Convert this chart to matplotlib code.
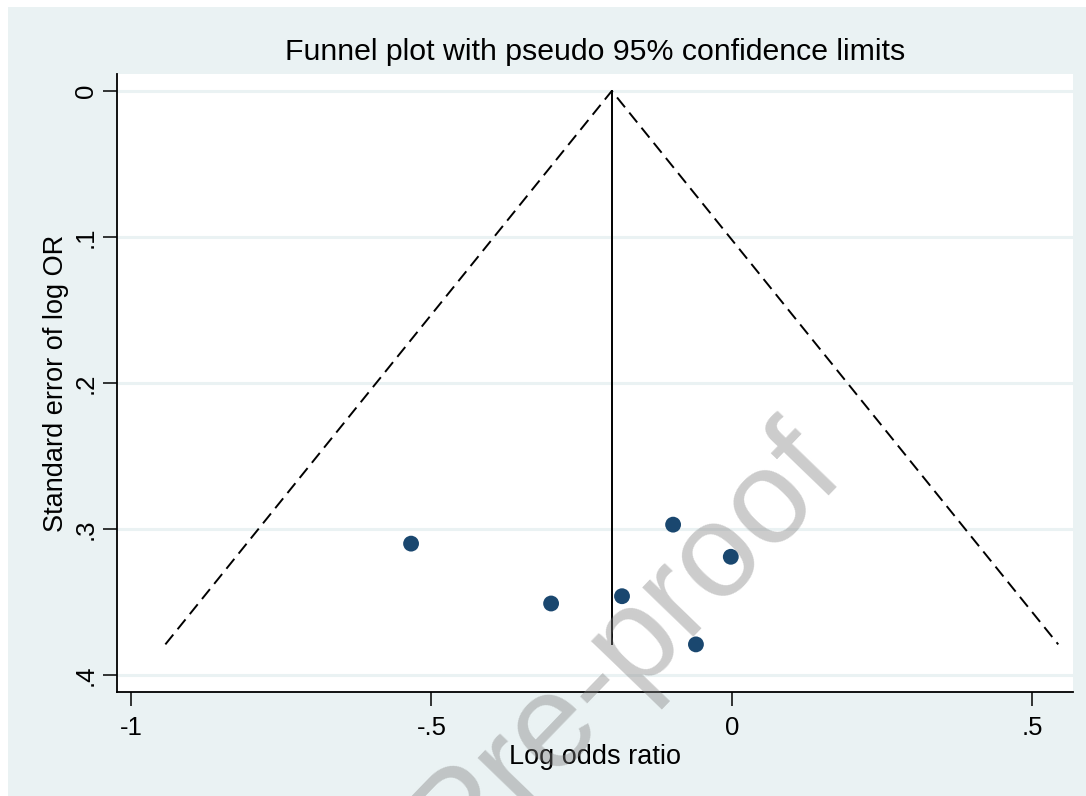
import matplotlib
matplotlib.use('Agg')
import matplotlib.pyplot as plt
from matplotlib.patches import Rectangle

# study estimates
log_or = [-0.534, -0.301, -0.183, -0.098, -0.002, -0.060]
se_log_or = [0.310, 0.351, 0.346, 0.297, 0.319, 0.379]
pooled = -0.20

x_ticks = [-1, -0.5, 0, 0.5]
x_tick_labels = ['-1', '-.5', '0', '.5']
y_ticks = [0, 0.1, 0.2, 0.3, 0.4]
y_tick_labels = ['0', '.1', '.2', '.3', '.4']

BG = '#EAF2F3'
NAVY = '#1A476F'
plt.rcParams['font.family'] = ['Liberation Sans', 'DejaVu Sans']

fig = plt.figure(figsize=(10.86, 7.96), dpi=100, facecolor='white')
# stata-style outer region
fig.patches.append(Rectangle((8 / 1086, 0), 1, 1 - 7 / 796, transform=fig.transFigure,
                             facecolor=BG, edgecolor='none', zorder=0))

ax = fig.add_axes([117 / 1086, 1 - 692 / 796, (1073 - 117) / 1086, (692 - 74) / 796])
ax.set_zorder(2)
ax.set_facecolor('white')

# pseudo 95% confidence limits
se_max = max(se_log_or)
ax.plot([pooled - 1.96 * se_max, pooled, pooled + 1.96 * se_max], [se_max, 0, se_max],
        color='black', linestyle=(0, (6.5, 3.5)), linewidth=1.4, zorder=2)
ax.plot([pooled, pooled], [0, se_max], color='black', linewidth=1.4, zorder=2)

ax.scatter(log_or, se_log_or, s=130, color=NAVY, edgecolors='none', zorder=3)

ax.set_xlim(-1.0233, 0.5674)
ax.set_ylim(0.4116, -0.0116)
ax.set_xticks(x_ticks)
ax.set_xticklabels(x_tick_labels)
ax.set_yticks(y_ticks)
ax.set_yticklabels(y_tick_labels)
ax.tick_params(axis='both', length=10, width=1.1, color='black', labelsize=18.5)
ax.tick_params(axis='x', pad=7)
ax.tick_params(axis='y', labelrotation=90, pad=4)
for lab in ax.get_yticklabels():
    lab.set_va('center')
ax.grid(axis='y', color=BG, linewidth=2.2)
ax.set_axisbelow(True)
for side in ['top', 'right']:
    ax.spines[side].set_visible(False)
for side in ['left', 'bottom']:
    ax.spines[side].set_linewidth(1.3)

ax.set_xlabel('Log odds ratio', fontsize=19.5, labelpad=3)
ax.set_ylabel('Standard error of log OR', fontsize=19.5, labelpad=3)
fig.text(595 / 1086, 1 - 52 / 796, 'Funnel plot with pseudo 95% confidence limits',
         ha='center', va='center', fontsize=21.8)

# journal watermark
fig.text(490 / 1086, 1 - 848 / 796, 'Journal Pre-proof', fontsize=96, color='#808080',
         alpha=0.4, rotation=46, rotation_mode='anchor', ha='center', va='baseline', zorder=10)

fig.savefig('out.png', dpi=100, facecolor='white')
